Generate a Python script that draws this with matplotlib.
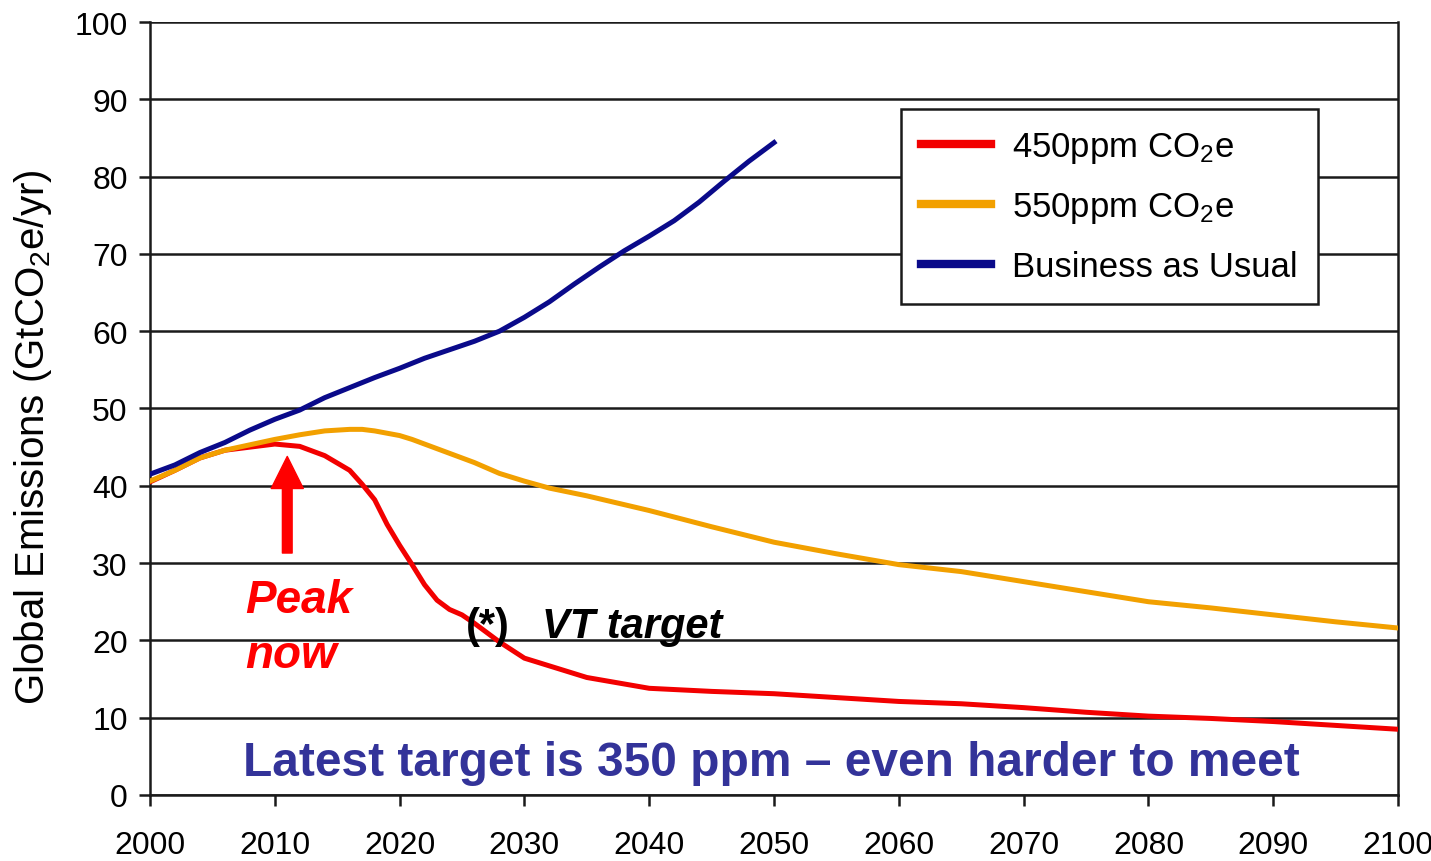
import matplotlib.pyplot as plt

plt.rcParams['font.family'] = ['Liberation Sans', 'DejaVu Sans']
plt.rcParams['mathtext.fontset'] = 'custom'
plt.rcParams['mathtext.rm'] = 'Liberation Sans'
plt.rcParams['mathtext.it'] = 'Liberation Sans:italic'
plt.rcParams['mathtext.bf'] = 'Liberation Sans:bold'

# scenario curves (GtCO2e/yr)
years = [2000, 2002, 2004, 2006, 2008, 2010, 2012, 2014, 2016, 2017, 2018, 2019,
         2020, 2021, 2022, 2023, 2024, 2025, 2026, 2028, 2030, 2032, 2035, 2040,
         2045, 2050, 2055, 2060, 2065, 2070, 2075, 2080, 2085, 2090, 2095, 2100]
ppm450 = [40.5, 42.0, 43.6, 44.6, 45.0, 45.4, 45.1, 43.9, 42.0, 40.2, 38.2, 35.0,
          32.3, 29.8, 27.2, 25.2, 24.0, 23.3, 22.2, 19.8, 17.7, 16.7, 15.2, 13.8,
          13.4, 13.1, 12.6, 12.1, 11.8, 11.3, 10.7, 10.2, 9.9, 9.5, 9.0, 8.5]
ppm550 = [40.6, 42.0, 43.6, 44.6, 45.3, 46.0, 46.6, 47.1, 47.3, 47.3, 47.1, 46.8,
          46.5, 46.0, 45.4, 44.8, 44.2, 43.6, 43.0, 41.6, 40.6, 39.7, 38.7, 36.8,
          34.7, 32.7, 31.2, 29.8, 28.9, 27.6, 26.3, 25.0, 24.2, 23.3, 22.4, 21.6]

bau_years = list(range(2000, 2051, 2))
bau = [41.5, 42.7, 44.3, 45.6, 47.2, 48.6, 49.8, 51.4, 52.7, 54.0, 55.2, 56.5, 57.6,
       58.7, 60.0, 61.8, 63.8, 66.1, 68.3, 70.4, 72.3, 74.3, 76.7, 79.4, 82.0, 84.4]

fig = plt.figure(figsize=(14.31, 8.62), dpi=100)
ax = fig.add_axes([0.1048, 0.0766, 0.8722, 0.8967])

ax.plot(years, ppm450, color='#f20000', lw=3.6, label='450ppm CO$_\\mathregular{2}$e', zorder=3)
ax.plot(years, ppm550, color='#f2a000', lw=3.6, label='550ppm CO$_\\mathregular{2}$e', zorder=3)
ax.plot(bau_years, bau, color='#0a0a8a', lw=3.6, label='Business as Usual', zorder=3)

ax.set_xlim(2000, 2100)
ax.set_ylim(0, 100)
ax.set_xticks(range(2000, 2101, 10))
ax.set_yticks(range(0, 101, 10))
ax.grid(axis='y', color='#1a1a1a', lw=1.8)
ax.set_axisbelow(True)
ax.tick_params(labelsize=23, direction='out', length=8, width=1.8, color='#1a1a1a')
ax.tick_params(axis='x', pad=17)
ax.tick_params(axis='y', pad=8)
ax.spines['top'].set_visible(False)
for s in ['left', 'bottom', 'right']:
    ax.spines[s].set_linewidth(1.8)
    ax.spines[s].set_color('#1a1a1a')

ax.set_ylabel('Global Emissions (GtCO$_\\mathregular{2}$e/yr)', fontsize=29)
ax.yaxis.set_label_coords(-0.077, 0.464)

leg = ax.legend(loc='upper right', bbox_to_anchor=(0.936, 0.8875), borderaxespad=0,
                fontsize=25, fancybox=False, framealpha=1, edgecolor='#1a1a1a',
                handlelength=2.0, handletextpad=0.6, labelspacing=0.72, borderpad=0.6)
leg.get_frame().set_linewidth(1.8)
for line in leg.get_lines():
    line.set_linewidth(6)

# annotations
ax.annotate('', xy=(2011, 43.8), xytext=(2011, 31.3),
            arrowprops=dict(arrowstyle='simple,head_width=1.65,head_length=1.65,tail_width=0.5',
                            color='#ff0000', mutation_scale=14, shrinkA=0, shrinkB=0))
ax.text(2007.6, 16.6, 'Peak\nnow', color='#ff0000', fontsize=33, fontweight='bold',
        fontstyle='italic', va='baseline', ha='left', linespacing=1.3)
ax.text(2025.3, 20.4, '(*)', color='black', fontsize=30, fontweight='bold',
        va='baseline', ha='left')
ax.text(2031.4, 20.4, 'VT target', color='black', fontsize=30, fontweight='bold',
        fontstyle='italic', va='baseline', ha='left')
ax.text(2007.45, 2.6, 'Latest target is 350 ppm \u2013 even harder to meet', color='#333399',
        fontsize=34.5, fontweight='bold', va='baseline', ha='left')

fig.savefig('out.png', dpi=100)
